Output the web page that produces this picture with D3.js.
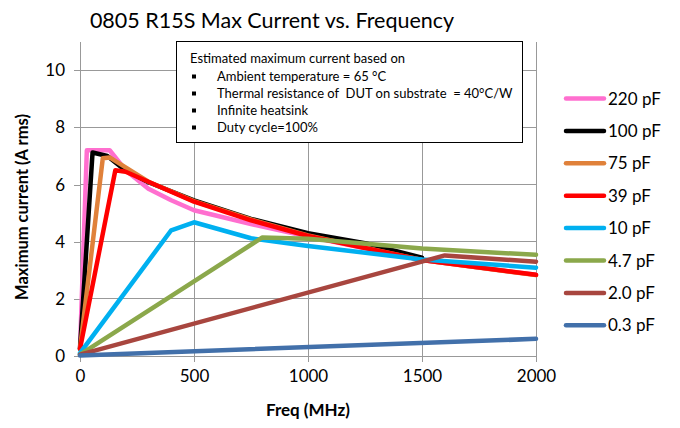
<!DOCTYPE html>
<html><head><meta charset="utf-8">
<script src="https://cdn.jsdelivr.net/npm/d3@7"></script>
<style>body{margin:0;background:#fff}svg{display:block}text{font-family:Lato,"Open Sans",sans-serif;white-space:pre}</style>
</head><body><div id="chart"></div>
<script>
const seriesNames = ["220 pF","100 pF","75 pF","39 pF","10 pF","4.7 pF","2.0 pF","0.3 pF"];
const seriesColors = ["#FF6FCF","#000000","#E0813A","#FF0000","#00B0F0","#8BA84B","#A8463F","#4270AA"];
const f220 = [0, 30, 130, 200, 300, 400, 500, 750, 1000, 1500, 2000];
const i220 = [0.25, 7.2, 7.2, 6.5, 5.85, 5.45, 5.1, 4.62, 4.18, 3.36, 2.84];
const f100 = [0, 55, 120, 190, 300, 500, 750, 1000, 1250, 1500];
const i100 = [0.25, 7.12, 7.0, 6.55, 6.08, 5.45, 4.8, 4.3, 3.95, 3.44];
const f75 = [0, 100, 130, 200, 300, 500, 750, 1000, 1500, 2000];
const i75 = [0.25, 6.92, 6.95, 6.6, 6.1, 5.42, 4.78, 4.22, 3.36, 2.83];
const f39 = [0, 155, 200, 300, 500, 750, 1000, 1250, 1500, 2000];
const i39 = [0.25, 6.5, 6.45, 6.1, 5.4, 4.75, 4.2, 3.78, 3.36, 2.84];
const f10 = [0, 400, 500, 750, 1000, 1500, 2000];
const i10 = [0.1, 4.4, 4.68, 4.12, 3.85, 3.38, 3.09];
const f47 = [0, 800, 1000, 1500, 2000];
const i47 = [0.05, 4.15, 4.1, 3.76, 3.54];
const f20 = [0, 1600, 2000];
const i20 = [0.05, 3.52, 3.3];
const f03 = [0, 2000];
const i03 = [0.02, 0.6];
const freqs = [f220, f100, f75, f39, f10, f47, f20, f03];
const currents = [i220, i100, i75, i39, i10, i47, i20, i03];
const xTicks = [0, 500, 1000, 1500, 2000];
const yTicks = [0, 2, 4, 6, 8, 10];
const titleText = "0805 R15S Max Current vs. Frequency";
const xTitle = "Freq (MHz)";
const yTitle = "Maximum current (A rms)";
const noteHeader = "Estimated maximum current based on";
const noteItems = ["Ambient temperature = 65 °C","Thermal resistance of  DUT on substrate  = 40°C/W","Infinite heatsink","Duty cycle=100%"];

const W = 680, H = 428;
const svg = d3.select("#chart").append("svg").attr("width", W).attr("height", H);
const x = d3.scaleLinear().domain([0, 2000]).range([80, 536]);
const y = d3.scaleLinear().domain([0, 11]).range([356, 41.7]);
const grid = "#999999";

// gridlines
svg.append("g").selectAll("line.h").data(yTicks.filter(d => d > 0)).join("line")
  .attr("x1", x(0)).attr("x2", x(2000)).attr("y1", d => y(d)).attr("y2", d => y(d))
  .attr("stroke", grid).attr("stroke-width", 1).attr("shape-rendering", "crispEdges");
svg.append("g").selectAll("line.v").data(xTicks.filter(d => d > 0)).join("line")
  .attr("x1", d => x(d)).attr("x2", d => x(d)).attr("y1", y(11)).attr("y2", y(0))
  .attr("stroke", grid).attr("stroke-width", 1).attr("shape-rendering", "crispEdges");

// axes
const xAxis = svg.append("g").attr("transform", `translate(0,${y(0)})`)
  .call(d3.axisBottom(x).tickValues(xTicks).tickSize(6).tickPadding(8).tickFormat(d3.format("d")));
const yAxis = svg.append("g").attr("transform", `translate(${x(0)},0)`)
  .call(d3.axisLeft(y).tickValues(yTicks).tickSize(6).tickPadding(9).tickFormat(d3.format("d")));
[xAxis, yAxis].forEach(a => {
  a.select(".domain").attr("stroke", grid).attr("shape-rendering", "crispEdges");
  a.selectAll(".tick line").attr("stroke", grid).attr("shape-rendering", "crispEdges");
  a.selectAll(".tick text").attr("font-size", 17).attr("fill", "#000").style("font-family", "Lato, sans-serif");
});
yAxis.select(".domain").attr("d", `M0,${y(0)}V${y(11)}`);
xAxis.select(".domain").attr("d", `M${x(0)},0H${x(2000)}`);

// series
const line = d3.line().x(d => x(d[0])).y(d => y(d[1]));
freqs.forEach((fs, k) => {
  const pts = fs.map((f, j) => [f, currents[k][j]]);
  svg.append("path").datum(pts).attr("d", line).attr("fill", "none")
    .attr("stroke", seriesColors[k]).attr("stroke-width", 4.5)
    .attr("stroke-linejoin", "round").attr("stroke-linecap", "round");
});

// note box
svg.append("rect").attr("x", 176.5).attr("y", 41.5).attr("width", 346).attr("height", 101)
  .attr("fill", "#fff").attr("stroke", "#000").attr("stroke-width", 1);
svg.append("text").attr("x", 190).attr("y", 63).attr("font-size", 13).text(noteHeader);
noteItems.forEach((t, k) => {
  const yy = 80.5 + k * 17;
  svg.append("rect").attr("x", 192).attr("y", yy - 6).attr("width", 4).attr("height", 4).attr("fill", "#000");
  svg.append("text").attr("x", 217).attr("y", yy).attr("font-size", 13).text(t);
});

// legend
seriesNames.forEach((n, k) => {
  const yy = 98.5 + k * 32.4;
  svg.append("line").attr("x1", 566).attr("x2", 604).attr("y1", yy).attr("y2", yy)
    .attr("stroke", seriesColors[k]).attr("stroke-width", 4.5).attr("stroke-linecap", "round");
  svg.append("text").attr("x", 608).attr("y", yy + 6).attr("font-size", 17).text(n);
});

// titles
svg.append("text").attr("x", 272).attr("y", 28).attr("text-anchor", "middle").attr("font-size", 21.5).text(titleText);
svg.append("text").attr("x", 308).attr("y", 416).attr("text-anchor", "middle").attr("font-size", 17).attr("font-weight", "bold").text(xTitle);
svg.append("text").attr("transform", "translate(28,207) rotate(-90)").attr("text-anchor", "middle").attr("font-size", 16.5).attr("font-weight", "bold").text(yTitle);
</script></body></html>
